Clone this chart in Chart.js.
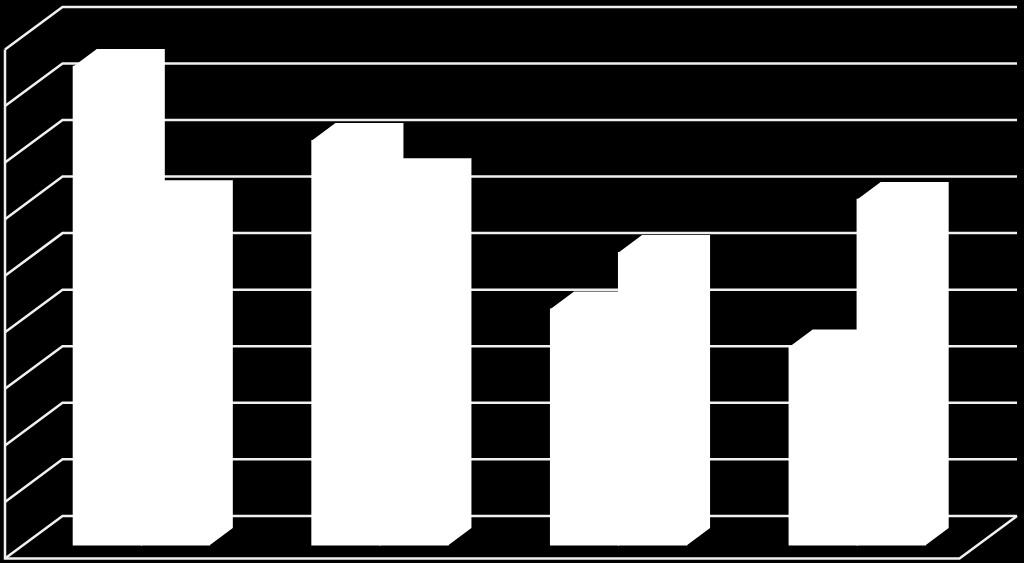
<!DOCTYPE html>
<html>
<head>
<meta charset="utf-8">
<style>
html,body{margin:0;padding:0;background:#000;overflow:hidden}
canvas{display:block}
</style>
<script src="https://cdn.jsdelivr.net/npm/chart.js@4"></script>
</head>
<body>
<canvas id="grafico" width="1024" height="563"></canvas>
<script>
// values, in grid steps
const categorias = ['1', '2', '3', '4'];
const serie1 = [8.47, 7.16, 4.18, 3.51];
const serie2 = [6.15, 6.54, 5.18, 6.12];
const tickValues = [0, 1, 2, 3, 4, 5, 6, 7, 8, 9];

// 3D offsets from the plane the bar fronts stand on
const backWall = {dx: 40.5, dy: -29.6};
const frontEdge = {dx: -17, dy: 13};
const barDepth = {dx: 23.5, dy: -17.5};
const lineColor = '#f0f0f0';

function line(c, pts) {
  c.beginPath();
  pts.forEach((p, i) => i ? c.lineTo(p[0], p[1]) : c.moveTo(p[0], p[1]));
  c.stroke();
}

const paredes = {
  id: 'paredes',
  beforeDatasetsDraw(chart) {
    const c = chart.ctx, y = chart.scales.y, a = chart.chartArea;
    c.save();
    c.strokeStyle = lineColor;
    c.lineWidth = 2.5;
    const xFront = a.left + frontEdge.dx;
    const xBack = a.left + backWall.dx;
    const xRight = a.right + backWall.dx;
    tickValues.forEach(v => {
      const py = y.getPixelForValue(v);
      line(c, [[xFront, py + frontEdge.dy], [xBack, py + backWall.dy], [xRight, py + backWall.dy]]);
    });
    // left edge and floor
    const y0 = y.getPixelForValue(tickValues[0]);
    const yMax = y.getPixelForValue(tickValues[tickValues.length - 1]);
    line(c, [[xFront, yMax + frontEdge.dy], [xFront, y0 + frontEdge.dy],
      [a.right + frontEdge.dx, y0 + frontEdge.dy], [xRight, y0 + backWall.dy]]);
    c.restore();
  },
  // top and side faces of each bar
  afterDatasetsDraw(chart) {
    const c = chart.ctx;
    c.save();
    c.fillStyle = '#fff';
    chart.data.datasets.forEach((ds, i) => {
      chart.getDatasetMeta(i).data.forEach(bar => {
        const l = bar.x - bar.width / 2, r = bar.x + bar.width / 2;
        c.beginPath();
        c.moveTo(l, bar.y);
        c.lineTo(l + barDepth.dx, bar.y + barDepth.dy);
        c.lineTo(r + barDepth.dx, bar.y + barDepth.dy);
        c.lineTo(r + barDepth.dx, bar.base + barDepth.dy);
        c.lineTo(r, bar.base);
        c.closePath();
        c.fill();
      });
    });
    c.restore();
  }
};

new Chart(document.getElementById('grafico').getContext('2d'), {
  type: 'bar',
  data: {
    labels: categorias,
    datasets: [
      {label: 'Serie 1', data: serie1, backgroundColor: '#fff', inflateAmount: 0.6},
      {label: 'Serie 2', data: serie2, backgroundColor: '#fff', inflateAmount: 0.6}
    ]
  },
  options: {
    responsive: false,
    animation: false,
    layout: {padding: {left: 22, right: 47.5, top: 36.5, bottom: 17.5}},
    categoryPercentage: 0.57,
    barPercentage: 1,
    plugins: {legend: {display: false}, tooltip: {enabled: false}},
    scales: {
      x: {display: false},
      y: {display: false, min: 0, max: 9}
    }
  },
  plugins: [paredes]
});
</script>
</body>
</html>
